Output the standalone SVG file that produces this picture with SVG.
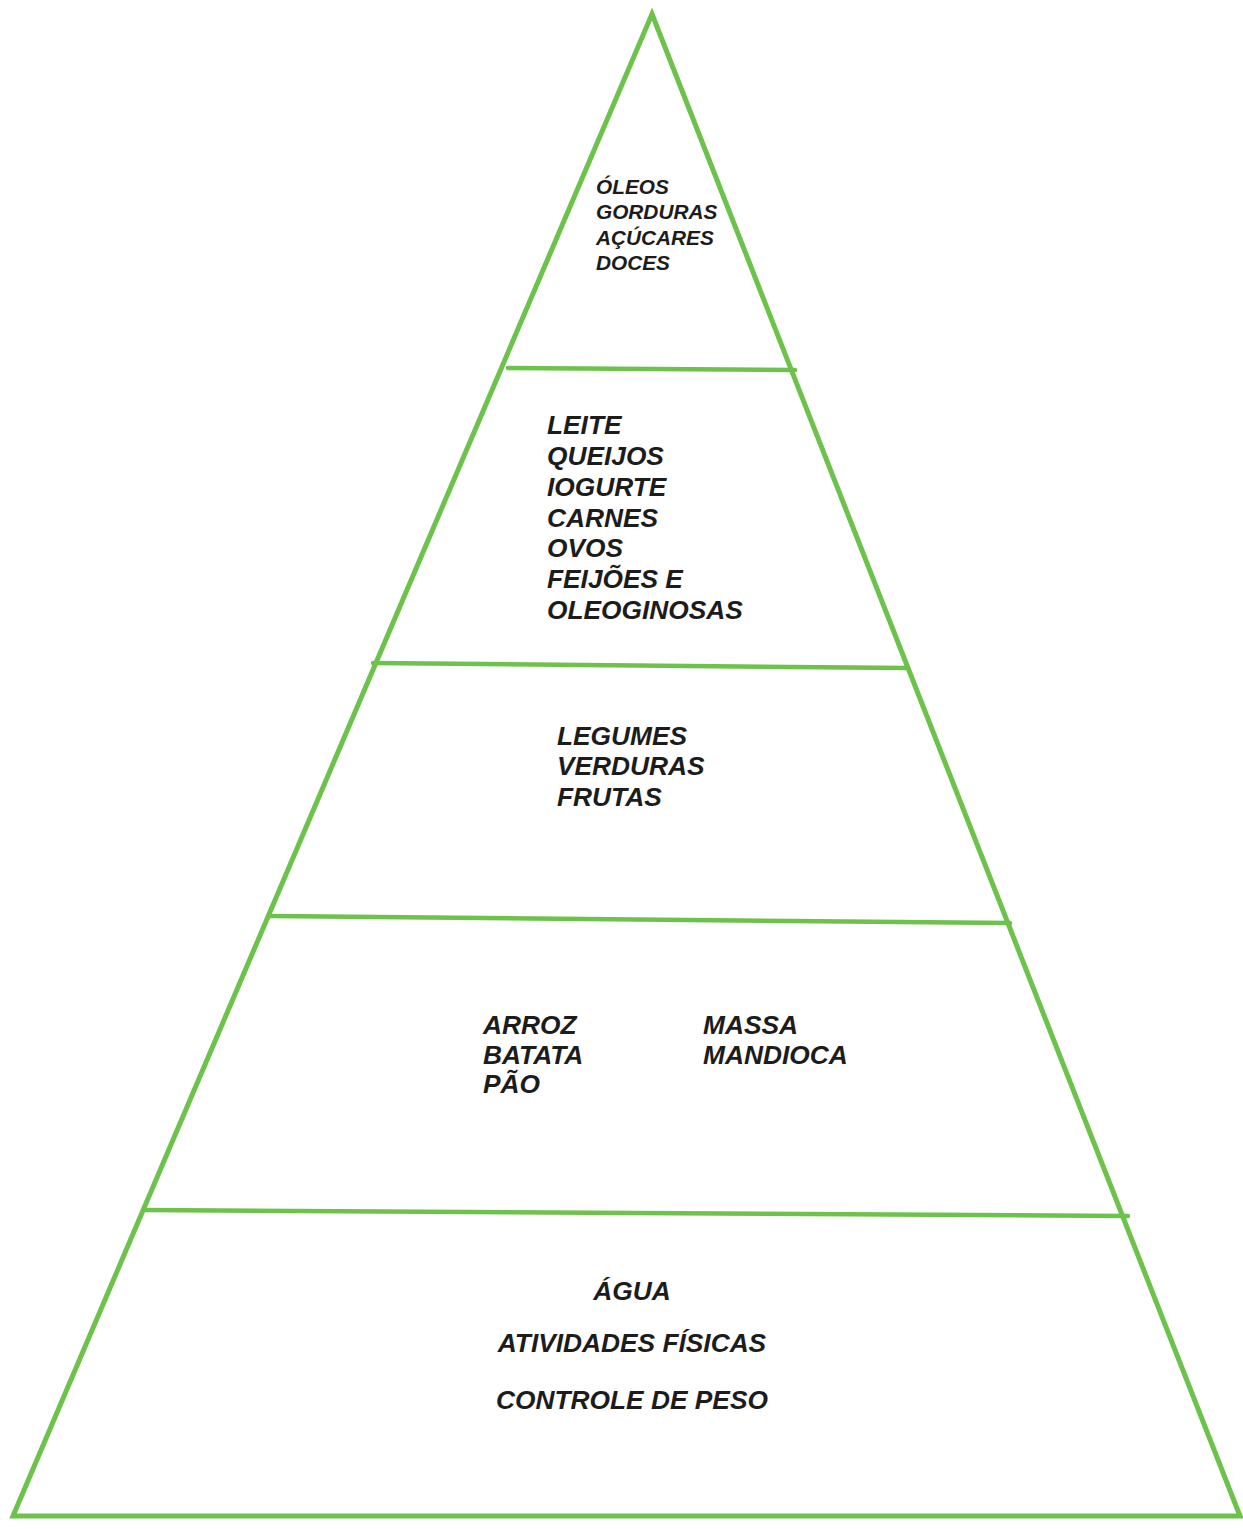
<svg xmlns="http://www.w3.org/2000/svg" width="1243" height="1529" viewBox="0 0 1243 1529">
<style>
.ln{stroke:#6cc24a;stroke-linecap:round;fill:none}
.out{stroke-width:5;stroke-linejoin:miter}
.div{stroke-width:4.5}
text{font-family:"Liberation Sans",Arial,sans-serif;font-weight:bold;font-style:italic;fill:#1c1c1c}
.s{font-size:20.8px}
.m{font-size:26.3px}
</style>
<rect width="1243" height="1529" fill="#fff"/>
<g id="connectors">
<polygon class="ln out" points="652,14 1240,1516 13,1516"/>
<line class="ln div" x1="508" y1="368" x2="795" y2="370"/>
<line class="ln div" x1="373" y1="663" x2="907" y2="668"/>
<line class="ln div" x1="270" y1="916" x2="1010" y2="923"/>
<line class="ln div" x1="144" y1="1210" x2="1128" y2="1216"/>
</g>
<g id="tier1">
<text class="s" x="596" y="194">ÓLEOS</text>
<text class="s" x="596" y="219">GORDURAS</text>
<text class="s" x="596" y="245">AÇÚCARES</text>
<text class="s" x="596" y="270">DOCES</text>
</g>
<g id="tier2">
<text class="m" x="547" y="434">LEITE</text>
<text class="m" x="547" y="465">QUEIJOS</text>
<text class="m" x="547" y="496">IOGURTE</text>
<text class="m" x="547" y="527">CARNES</text>
<text class="m" x="547" y="557">OVOS</text>
<text class="m" x="547" y="588">FEIJÕES E</text>
<text class="m" x="547" y="619">OLEOGINOSAS</text>
</g>
<g id="tier3">
<text class="m" x="557" y="745">LEGUMES</text>
<text class="m" x="557" y="775">VERDURAS</text>
<text class="m" x="557" y="806">FRUTAS</text>
</g>
<g id="tier4">
<text class="m" x="483" y="1034">ARROZ</text>
<text class="m" x="483" y="1064">BATATA</text>
<text class="m" x="483" y="1093">PÃO</text>
<text class="m" x="703" y="1034">MASSA</text>
<text class="m" x="703" y="1064">MANDIOCA</text>
</g>
<g id="tier5">
<text class="m" x="632" y="1300" text-anchor="middle">ÁGUA</text>
<text class="m" x="632" y="1352" text-anchor="middle">ATIVIDADES FÍSICAS</text>
<text class="m" x="632" y="1409" text-anchor="middle">CONTROLE DE PESO</text>
</g>
</svg>
